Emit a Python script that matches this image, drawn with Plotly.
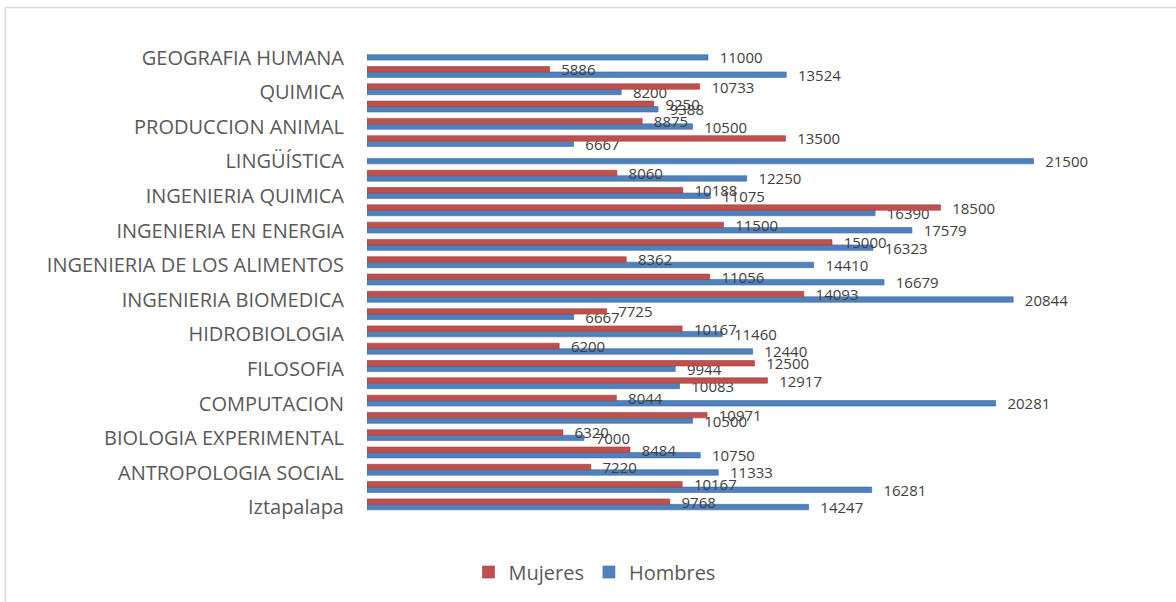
import plotly.graph_objects as go

# Categories listed from bottom to top (27 bar pairs; only every other label is shown)
categories = [
    "Iztapalapa", "ADMINISTRACION", "ANTROPOLOGIA SOCIAL", "BIOLOGIA",
    "BIOLOGIA EXPERIMENTAL", "CIENCIA POLITICA", "COMPUTACION", "ECONOMIA",
    "FILOSOFIA", "FISICA", "HIDROBIOLOGIA", "HISTORIA",
    "INGENIERIA BIOMEDICA", "INGENIERIA BIOQUIMICA INDUSTRIAL",
    "INGENIERIA DE LOS ALIMENTOS", "INGENIERIA ELECTRONICA",
    "INGENIERIA EN ENERGIA", "INGENIERIA HIDROLOGICA", "INGENIERIA QUIMICA",
    "LETRAS HISPANICAS", "LINGÜÍSTICA", "MATEMATICAS", "PRODUCCION ANIMAL",
    "PSICOLOGIA SOCIAL", "QUIMICA", "SOCIOLOGIA", "GEOGRAFIA HUMANA",
]
shown_labels = categories[::2]

mujeres = [9768, 10167, 7220, 8484, 6320, 10971, 8044, 12917, 12500, 6200,
           10167, 7725, 14093, 11056, 8362, 15000, 11500, 18500, 10188, 8060,
           None, 13500, 8875, 9250, 10733, 5886, None]
hombres = [14247, 16281, 11333, 10750, 7000, 10500, 20281, 10083, 9944, 12440,
           11460, 6667, 20844, 16679, 14410, 16323, 17579, 16390, 11075, 12250,
           21500, 6667, 10500, 9388, 8200, 13524, 11000]

RED = "#C0504D"
BLUE = "#4F81BD"
pad = "\u00a0\u00a0\u00a0"

def labels(vals):
    return ["" if v is None else pad + str(v) for v in vals]

fig = go.Figure()
fig.add_trace(go.Bar(
    name="Hombres", y=categories, x=hombres, orientation="h",
    marker=dict(color=BLUE, line=dict(color="#3F6A9E", width=0.6)),
    text=labels(hombres), texttemplate="%{text}", textposition="outside",
    cliponaxis=False, constraintext="none",
    textfont=dict(family="Open Sans", size=15, color="#404040"),
))
fig.add_trace(go.Bar(
    name="Mujeres", y=categories, x=mujeres, orientation="h",
    marker=dict(color=RED, line=dict(color="#9E3E3B", width=0.6)),
    text=labels(mujeres), texttemplate="%{text}", textposition="outside",
    cliponaxis=False, constraintext="none",
    textfont=dict(family="Open Sans", size=15, color="#404040"),
))

fig.update_layout(
    width=1176, height=602,
    margin=dict(l=367, r=34, t=46, b=88),
    barmode="group", bargap=0.37, bargroupgap=0,
    plot_bgcolor="white", paper_bgcolor="white",
    font=dict(family="Open Sans", color="#595959"),
    showlegend=True,
    legend=dict(orientation="h", traceorder="reversed", x=0.2935, y=-0.124,
                xanchor="center", yanchor="middle",
                font=dict(size=20, color="#595959")),
    xaxis=dict(range=[0, 25000], showgrid=False, zeroline=False,
               showticklabels=False, showline=False, ticks=""),
    yaxis=dict(type="category", categoryorder="array", categoryarray=categories,
               tickmode="array", tickvals=shown_labels, ticktext=shown_labels,
               showgrid=False, showline=False, ticks="", ticklen=0,
               ticklabelstandoff=22, ticklabelshift=3,
               tickfont=dict(size=20, color="#595959"), automargin=False),
    shapes=[dict(type="rect", xref="paper", yref="paper",
                 x0=-0.4665, x1=1.08, y0=-0.25, y1=1.0823,
                 line=dict(color="#D9D9D9", width=1.5), layer="below")],
    hovermode=False,
)

fig.write_html("out.html", config={"displayModeBar": False},
               post_script="document.body.style.margin='0';")
